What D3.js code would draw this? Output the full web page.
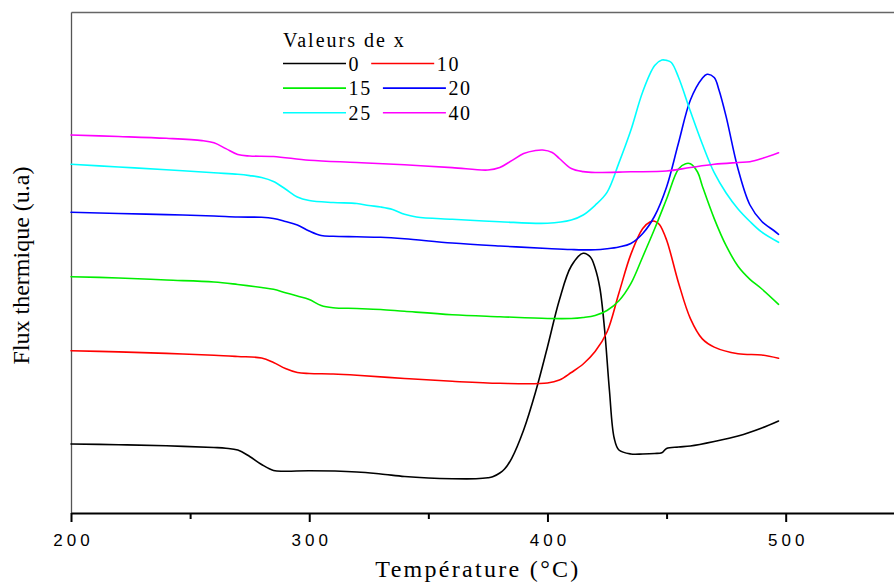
<!DOCTYPE html>
<html>
<head>
<meta charset="utf-8">
<script src="https://cdn.jsdelivr.net/npm/d3@7"></script>
<style>
  html, body { margin: 0; padding: 0; background: #fff; }
  svg { display: block; }
</style>
</head>
<body>
<svg id="chart" width="894" height="583"></svg>
<script>
// DSC traces: heat flow (arbitrary units) versus temperature (°C), one per x value
const seriesNames = ["0", "10", "15", "20", "25", "40"];
const seriesColors = ["#000000", "#ff0000", "#00ee00", "#0000ff", "#00ffff", "#ff00ff"];

const t0 = [200,220,240,260,265,270,275,280,285,290,300,320,330,340,350,360,370,375,377,380,382,385,390,395,400,405,410,415,418,420,422,424,426,428,430,435,440,445,448,450,455,460,470,480,490,497];
const v0 = [6.9,6.83,6.72,6.55,6.48,6.3,5.65,4.85,4.25,4.18,4.22,4.1,3.9,3.65,3.5,3.43,3.43,3.52,3.62,4.0,4.4,5.47,8.3,12.1,16.6,21.3,24.7,25.97,25.6,24.5,22.5,18.3,12.3,7.5,6.3,5.9,5.9,5.95,6.03,6.45,6.6,6.7,7.15,7.7,8.5,9.2];

const t1 = [200,220,240,260,270,280,285,290,295,300,310,320,340,360,380,400,405,410,415,420,425,430,435,440,443,445,447,450,455,460,465,470,480,490,497];
const v1 = [16.23,16.11,15.96,15.78,15.65,15.5,15.05,14.45,14.05,13.95,13.9,13.78,13.45,13.17,12.97,13.0,13.3,14.05,14.9,16.14,18.1,22.0,25.86,28.45,29.1,29.18,28.85,27.3,23.03,19.44,17.41,16.59,15.92,15.8,15.47];

const t2 = [200,220,240,260,270,280,285,290,295,300,305,310,320,330,340,360,380,400,410,415,420,425,430,435,440,445,450,455,458,460,463,465,470,475,480,485,490,497];
const v2 = [23.63,23.5,23.3,23.1,22.85,22.55,22.37,22.03,21.7,21.35,20.75,20.53,20.45,20.35,20.17,19.83,19.63,19.45,19.45,19.55,19.75,20.25,21.22,22.93,25.63,28.42,31.4,34.4,34.93,34.92,34.1,32.7,29.44,26.73,24.68,23.37,22.4,20.87];

const t3 = [200,220,240,260,270,280,285,290,295,300,305,310,320,330,340,360,380,400,410,420,425,430,435,440,445,450,455,460,465,467,470,472,475,480,485,490,495,497];
const v3 = [30.07,29.95,29.84,29.7,29.6,29.57,29.45,29.15,28.8,28.2,27.75,27.67,27.62,27.57,27.42,27.0,26.7,26.45,26.35,26.32,26.42,26.6,26.95,27.95,29.7,32.6,37.0,41.3,43.47,43.87,43.55,42.3,39.64,34.4,30.8,29.15,28.25,27.87];

const t4 = [200,220,240,260,270,275,280,285,290,295,300,310,320,325,330,335,340,345,360,380,400,410,415,420,425,430,435,440,445,448,450,452,455,460,465,470,475,480,485,490,497];
const v4 = [34.87,34.6,34.33,34.02,33.87,33.74,33.55,33.15,32.4,31.6,31.25,31.05,30.95,30.75,30.6,30.35,29.87,29.6,29.37,29.13,28.98,29.3,29.8,30.77,32.06,35.01,38.27,42.13,44.74,45.3,45.26,45.05,43.58,40.17,36.9,34.03,32.0,30.4,29.15,28.08,27.07];

const t5 = [200,220,240,255,260,265,270,275,285,300,320,340,360,375,380,385,390,395,398,402,405,410,415,420,435,450,460,470,480,485,490,497];
const v5 = [37.8,37.65,37.47,37.24,37.02,36.44,35.85,35.7,35.65,35.27,35.05,34.82,34.54,34.3,34.55,35.24,35.94,36.25,36.3,36.05,35.45,34.45,34.14,34.05,34.12,34.2,34.55,34.87,35.05,35.13,35.45,36.03];

const seriesTemps = [t0, t1, t2, t3, t4, t5];
const seriesValues = [v0, v1, v2, v3, v4, v5];

const majorTicks = [200, 300, 400, 500];
const minorTicks = [250, 350, 450];
const xTitle = "Température (°C)";
const yTitle = "Flux thermique (u.a)";
const legendTitle = "Valeurs de x";

// ---- layout ----
const W = 894, H = 583;
const plotLeft = 71, plotTop = 12, plotBottom = 513;
const pxPerDegree = 2.3823;

const svg = d3.select("#chart");
svg.append("rect").attr("width", W).attr("height", H).attr("fill", "#fff");

const x = d3.scaleLinear().domain([200, 550]).range([plotLeft, plotLeft + 350 * pxPerDegree]);
const y = d3.scaleLinear().domain([0, 50.1]).range([plotBottom, plotTop]);

const serif = "'Liberation Serif', 'Times New Roman', Times, serif";
const sans = "'Liberation Sans', Arial, Helvetica, sans-serif";

// top frame line
svg.append("g")
  .attr("transform", `translate(0,${plotTop})`)
  .call(d3.axisTop(x).tickValues([]).tickSizeOuter(0))
  .call(g => g.select(".domain").attr("stroke", "#666").attr("stroke-width", 1.3));

// left frame line (no ticks)
svg.append("g")
  .attr("transform", `translate(${plotLeft},0)`)
  .call(d3.axisLeft(y).tickValues([]).tickSizeOuter(0))
  .call(g => g.select(".domain").attr("stroke", "#555").attr("stroke-width", 1.3));

// curves (centripetal Catmull-Rom keeps the traces smooth without overshoot)
const line = d3.line()
  .x(d => x(d[0]))
  .y(d => y(d[1]))
  .curve(d3.curveCatmullRom.alpha(0.5));

const curves = svg.append("g").attr("fill", "none").attr("stroke-width", 1.6)
  .attr("stroke-linejoin", "round").attr("stroke-linecap", "round");
seriesTemps.forEach((ts, i) => {
  const pts = ts.map((t, k) => [t, seriesValues[i][k]]);
  curves.append("path")
    .attr("d", line(pts))
    .attr("stroke", seriesColors[i]);
});

// bottom axis: minor ticks, then labelled major ticks
svg.append("g")
  .attr("transform", `translate(0,${plotBottom})`)
  .call(d3.axisBottom(x).tickValues(minorTicks).tickSize(6).tickSizeOuter(0).tickFormat(""))
  .call(g => g.select(".domain").remove())
  .call(g => g.selectAll(".tick line").attr("stroke", "#000").attr("stroke-width", 2));

const xAxis = svg.append("g")
  .attr("transform", `translate(0,${plotBottom})`)
  .call(d3.axisBottom(x).tickValues(majorTicks).tickSize(9).tickSizeOuter(0).tickFormat(d3.format("d")));
xAxis.select(".domain").attr("stroke", "#000").attr("stroke-width", 2);
xAxis.selectAll(".tick line").attr("stroke", "#000").attr("stroke-width", 2);
xAxis.selectAll(".tick text")
  .attr("y", 33).attr("dy", 0).attr("dx", 2)
  .attr("fill", "#000")
  .style("font-family", sans).style("font-size", "17px").style("letter-spacing", "4px");

// axis titles
svg.append("text")
  .attr("x", 478).attr("y", 577)
  .attr("text-anchor", "middle")
  .style("font-family", serif).style("font-size", "24px").style("letter-spacing", "2.3px")
  .attr("fill", "#000")
  .text(xTitle);

svg.append("text")
  .attr("transform", `translate(29,${(plotTop + plotBottom) / 2 + 3}) rotate(-90)`)
  .attr("text-anchor", "middle")
  .style("font-family", serif).style("font-size", "24px")
  .attr("fill", "#000")
  .text(yTitle);

// legend
const legend = svg.append("g").style("font-family", serif).style("font-size", "20px").attr("fill", "#000");
legend.append("text")
  .attr("x", 283).attr("y", 46.5)
  .style("letter-spacing", "2px")
  .text(legendTitle);

const legendRows = [[0, 1], [2, 3], [4, 5]];
legendRows.forEach((row, r) => {
  const ly = 63.5 + r * 24.6;
  let cx = 283;
  row.forEach(i => {
    legend.append("line")
      .attr("x1", cx).attr("x2", cx + 63)
      .attr("y1", ly).attr("y2", ly)
      .attr("stroke", seriesColors[i]).attr("stroke-width", 1.6);
    const label = legend.append("text")
      .attr("x", cx + 65.5).attr("y", ly + 7.3)
      .style("letter-spacing", "1.7px")
      .text(seriesNames[i]);
    cx = cx + 65.5 + label.node().getComputedTextLength() + 11;
  });
});
</script>
</body>
</html>
